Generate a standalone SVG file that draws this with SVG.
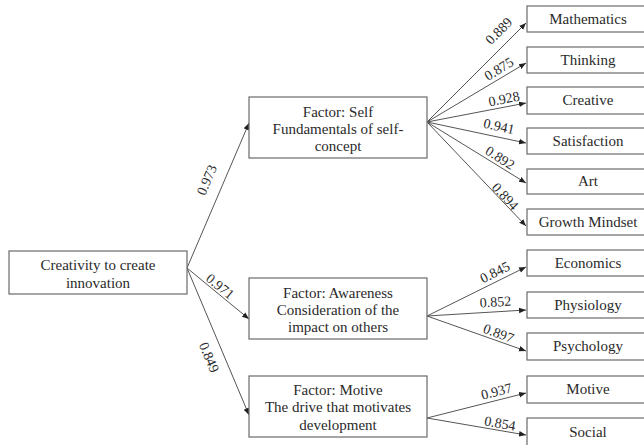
<svg xmlns="http://www.w3.org/2000/svg" width="644" height="445" viewBox="0 0 644 445">
<defs>
<style>
.box{fill:#fff;stroke:#6a6a6a;stroke-width:1.2}
.t{font-size:15px;fill:#2a2a2a;text-anchor:middle}
.l{font-size:14px;fill:#2a2a2a;text-anchor:middle}
.c{stroke:#555;stroke-width:1;fill:none;marker-end:url(#ah)}
</style>
<marker id="ah" viewBox="0 0 10 10" refX="10" refY="5" markerWidth="7" markerHeight="7" markerUnits="userSpaceOnUse" orient="auto">
<path d="M0,1 L10,5 L0,9 Z" fill="#222"/>
</marker>
</defs>
<rect width="644" height="445" fill="#fff"/>
<g font-family="'Liberation Serif', 'Times New Roman', 'DejaVu Serif', serif">
<g id="connectors">
<line class="c" x1="187" y1="268" x2="249" y2="123"/>
<line class="c" x1="187" y1="268" x2="249" y2="319"/>
<line class="c" x1="187" y1="268" x2="249" y2="415"/>
<line class="c" x1="427" y1="122" x2="526" y2="23"/>
<line class="c" x1="427" y1="122" x2="526" y2="63"/>
<line class="c" x1="427" y1="122" x2="526" y2="103"/>
<line class="c" x1="427" y1="122" x2="526" y2="143"/>
<line class="c" x1="427" y1="122" x2="526" y2="183"/>
<line class="c" x1="427" y1="122" x2="526" y2="226"/>
<line class="c" x1="427" y1="316" x2="526" y2="267"/>
<line class="c" x1="427" y1="316" x2="526" y2="310"/>
<line class="c" x1="427" y1="316" x2="526" y2="351"/>
<line class="c" x1="427" y1="418" x2="526" y2="393"/>
<line class="c" x1="427" y1="418" x2="526" y2="435"/>
<text class="l" transform="translate(207,180) rotate(-66.8)" y="4.5">0.973</text>
<text class="l" transform="translate(220,286.5) rotate(39.4)" y="4.5">0.971</text>
<text class="l" transform="translate(209,357.5) rotate(67.1)" y="4.5">0.849</text>
<text class="l" transform="translate(499,31) rotate(-45.3)" y="4.5">0.889</text>
<text class="l" transform="translate(499,69) rotate(-31.6)" y="4.5">0.875</text>
<text class="l" transform="translate(504,99) rotate(-11)" y="4.5">0.928</text>
<text class="l" transform="translate(499,126.5) rotate(12.3)" y="4.5">0.941</text>
<text class="l" transform="translate(500,158) rotate(32.4)" y="4.5">0.892</text>
<text class="l" transform="translate(505,196.5) rotate(47.3)" y="4.5">0.894</text>
<text class="l" transform="translate(495,272.5) rotate(-26.6)" y="4.5">0.845</text>
<text class="l" transform="translate(495.5,302) rotate(-3.6)" y="4.5">0.852</text>
<text class="l" transform="translate(498.5,333.5) rotate(20)" y="4.5">0.897</text>
<text class="l" transform="translate(496.5,391.5) rotate(-14.6)" y="4.5">0.937</text>
<text class="l" transform="translate(500,423.5) rotate(9.8)" y="4.5">0.854</text>
</g>

<g id="root">
<rect class="box" x="9" y="251" width="178" height="43"/>
<text class="t" x="98" y="270">Creativity to create</text>
<text class="t" x="98" y="288">innovation</text>
</g>
<g id="self">
<rect class="box" x="249" y="97" width="178" height="61"/>
<text class="t" x="338" y="117">Factor: Self</text>
<text class="t" x="338" y="134">Fundamentals of self-</text>
<text class="t" x="338" y="151">concept</text>
</g>
<g id="awareness">
<rect class="box" x="249" y="278" width="178" height="61"/>
<text class="t" x="338" y="298">Factor: Awareness</text>
<text class="t" x="338" y="315">Consideration of the</text>
<text class="t" x="338" y="332">impact on others</text>
</g>
<g id="motive-factor">
<rect class="box" x="249" y="376" width="178" height="61"/>
<text class="t" x="338" y="395">Factor: Motive</text>
<text class="t" x="338" y="412">The drive that motivates</text>
<text class="t" x="338" y="430">development</text>
</g>

<g id="mathematics"><rect class="box" x="527" y="6" width="130" height="26"/><text class="t" x="588" y="24">Mathematics</text></g>
<g id="thinking"><rect class="box" x="527" y="47" width="130" height="26"/><text class="t" x="588" y="65">Thinking</text></g>
<g id="creative"><rect class="box" x="527" y="87" width="130" height="27"/><text class="t" x="588" y="105">Creative</text></g>
<g id="satisfaction"><rect class="box" x="527" y="128" width="130" height="26"/><text class="t" x="588" y="146">Satisfaction</text></g>
<g id="art"><rect class="box" x="527" y="169" width="130" height="25"/><text class="t" x="588" y="186">Art</text></g>
<g id="growth"><rect class="box" x="527" y="209" width="130" height="26"/><text class="t" x="588" y="227">Growth Mindset</text></g>
<g id="economics"><rect class="box" x="527" y="250" width="130" height="26"/><text class="t" x="588" y="268">Economics</text></g>
<g id="physiology"><rect class="box" x="527" y="292" width="130" height="26"/><text class="t" x="588" y="310">Physiology</text></g>
<g id="psychology"><rect class="box" x="527" y="333" width="130" height="27"/><text class="t" x="588" y="351">Psychology</text></g>
<g id="motive"><rect class="box" x="527" y="376" width="130" height="27"/><text class="t" x="588" y="394">Motive</text></g>
<g id="social"><rect class="box" x="527" y="418" width="130" height="34"/><text class="t" x="588" y="437">Social</text></g>
</g>
</svg>
